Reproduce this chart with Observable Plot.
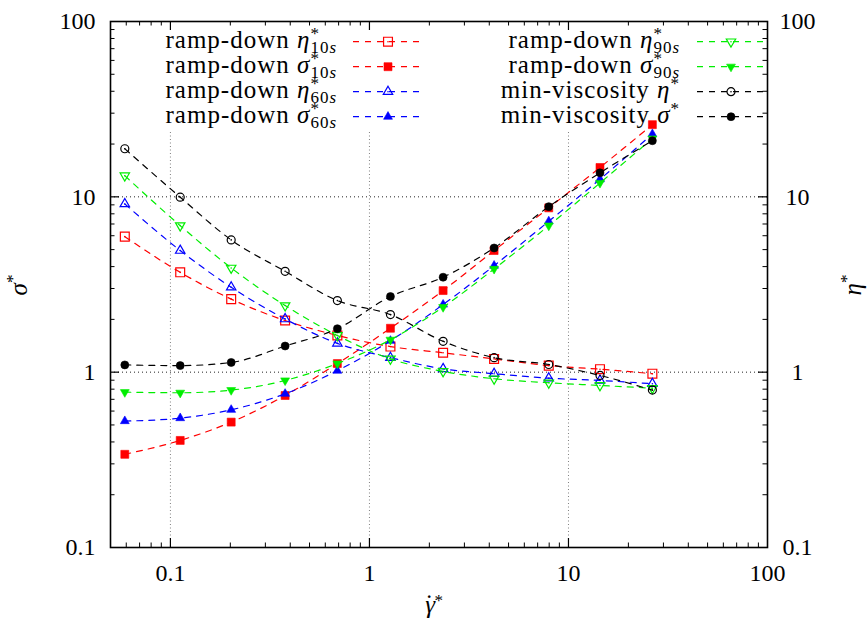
<!DOCTYPE html>
<html><head><meta charset="utf-8">
<script src="https://cdn.jsdelivr.net/npm/d3@7"></script>
<script src="https://cdn.jsdelivr.net/npm/@observablehq/plot@0.6"></script>
<style>
body{margin:0;background:#fff}
svg{display:block}
svg text, svg tspan{font-family:'Liberation Serif','Times New Roman',serif !important}
</style>
</head><body><div id="chart"></div>
<script>
// ---- data ----
const shearRate = [0.059, 0.112, 0.202, 0.377, 0.69, 1.275, 2.345, 4.23, 7.96, 14.4, 26.4];
const etaRamp10   = [5.93, 3.71, 2.61, 1.97, 1.62, 1.40, 1.29, 1.19, 1.09, 1.04, 0.98];
const sigmaRamp10 = [0.34, 0.408, 0.519, 0.736, 1.12, 1.78, 2.92, 4.94, 8.65, 14.7, 25.8];
const etaRamp60   = [9.11, 4.94, 3.05, 2.01, 1.46, 1.21, 1.045, 0.98, 0.924, 0.897, 0.859];
const sigmaRamp60 = [0.526, 0.547, 0.61, 0.753, 1.02, 1.51, 2.43, 4.05, 7.25, 12.6, 22.8];
const etaRamp90   = [13.2, 6.85, 3.93, 2.40, 1.62, 1.19, 1.01, 0.917, 0.87, 0.84, 0.81];
const sigmaRamp90 = [0.769, 0.763, 0.79, 0.897, 1.12, 1.53, 2.35, 3.88, 6.85, 12.0, 21.5];
const etaMinVisc   = [18.8, 9.95, 5.68, 3.76, 2.56, 2.13, 1.50, 1.21, 1.106, 0.958, 0.79];
const sigmaMinVisc = [1.10, 1.09, 1.136, 1.41, 1.77, 2.70, 3.48, 5.11, 8.79, 13.7, 20.9];

const xTickLabels = [0.1, 1, 10, 100];
const yTickLabels = [0.1, 1, 10, 100];
const xGrid = [0.1, 1, 10];
const yGrid = [1, 10];
const decades = [0.01, 0.1, 1, 10];
const minorMult = [2, 3, 4, 5, 6, 7, 8, 9];

const series = [
  {values: etaRamp10,   color: "#ff0000", symbol: "square",   r: 5.0, rotate: 0,   open: true,  pre: "ramp-down ",     sym: "η", sub: "10"},
  {values: sigmaRamp10, color: "#ff0000", symbol: "square",   r: 4.5, rotate: 0,   open: false, pre: "ramp-down ",     sym: "σ", sub: "10"},
  {values: etaRamp60,   color: "#0000ff", symbol: "triangle", r: 3.5, rotate: 0,   open: true,  pre: "ramp-down ",     sym: "η", sub: "60"},
  {values: sigmaRamp60, color: "#0000ff", symbol: "triangle", r: 3.3, rotate: 0,   open: false, pre: "ramp-down ",     sym: "σ", sub: "60"},
  {values: etaRamp90,   color: "#00ee00", symbol: "triangle", r: 3.5, rotate: 180, open: true,  pre: "ramp-down ",     sym: "η", sub: "90"},
  {values: sigmaRamp90, color: "#00ee00", symbol: "triangle", r: 3.3, rotate: 180, open: false, pre: "ramp-down ",     sym: "σ", sub: "90"},
  {values: etaMinVisc,  color: "#000000", symbol: "circle",   r: 4.0, rotate: 0,   open: true,  pre: "min-viscosity ", sym: "η", sub: null},
  {values: sigmaMinVisc,color: "#000000", symbol: "circle",   r: 4.0, rotate: 0,   open: false, pre: "min-viscosity ", sym: "σ", sub: null}
];

// ---- layout ----
const W = 867, H = 626;
const mL = 110, mR = 100, mT = 21, mB = 79;
const innerW = W - mL - mR, innerH = H - mT - mB;
const majorLen = 9, minorLen = 4.5;
const DASH = "6,6";
const FONT = "'Liberation Serif', 'Times New Roman', serif";

const xMinor = decades.flatMap(d => minorMult.map(m => +(d * m).toPrecision(3))).filter(v => v > 0.05 && v < 100);
const yMinor = decades.flatMap(d => minorMult.map(m => +(d * m).toPrecision(3))).filter(v => v > 0.1 && v < 100);

const marks = [
  Plot.ruleX(xGrid, {stroke: "#808080", strokeWidth: 1, strokeDasharray: "1,2.5", insetTop: 111}),
  Plot.ruleY(yGrid, {stroke: "#222", strokeWidth: 1, strokeDasharray: "1,3"}),
];

for (const s of series) {
  const d = shearRate.map((x, i) => ({x, y: s.values[i]}));
  marks.push(Plot.line(d, {x: "x", y: "y", stroke: s.color, strokeWidth: 1.2, strokeDasharray: DASH, curve: "monotone-x"}));
  marks.push(Plot.dot(d, {x: "x", y: "y", symbol: s.symbol, r: s.r, rotate: s.rotate,
    fill: s.open ? "none" : s.color, stroke: s.color, strokeWidth: s.open ? 1.2 : 0.6}));
  if (s.open) marks.push(Plot.dot(d, {x: "x", y: "y", r: 0.8, fill: s.color, stroke: "none"}));
}

marks.push(
  Plot.ruleX(xGrid, {stroke: "black", strokeWidth: 1.2, insetTop: innerH - majorLen}),
  Plot.ruleX(xGrid, {stroke: "black", strokeWidth: 1.2, insetBottom: innerH - majorLen}),
  Plot.ruleX(xMinor, {stroke: "black", strokeWidth: 1, insetTop: innerH - minorLen}),
  Plot.ruleX(xMinor, {stroke: "black", strokeWidth: 1, insetBottom: innerH - minorLen}),
  Plot.ruleY(yGrid, {stroke: "black", strokeWidth: 1.2, insetRight: innerW - majorLen}),
  Plot.ruleY(yGrid, {stroke: "black", strokeWidth: 1.2, insetLeft: innerW - majorLen}),
  Plot.ruleY(yMinor, {stroke: "black", strokeWidth: 1, insetRight: innerW - minorLen}),
  Plot.ruleY(yMinor, {stroke: "black", strokeWidth: 1, insetLeft: innerW - minorLen}),
  Plot.frame({stroke: "black", strokeWidth: 1.6}),
  Plot.axisX({ticks: xTickLabels, tickFormat: d => String(d), tickSize: 0, tickPadding: 16, label: null, fontSize: 24}),
  Plot.axisY({ticks: yTickLabels, tickFormat: d => String(d), anchor: "left", tickSize: 0, tickPadding: 15, label: null, fontSize: 24}),
  Plot.axisY({ticks: yTickLabels, tickFormat: d => String(d), anchor: "right", tickSize: 0, tickPadding: 30, textAnchor: "middle", label: null, fontSize: 24})
);

const chart = Plot.plot({
  width: W, height: H,
  marginLeft: mL, marginRight: mR, marginTop: mT, marginBottom: mB,
  x: {type: "log", domain: [0.05, 100]},
  y: {type: "log", domain: [0.1, 100]},
  style: {fontFamily: FONT, fontSize: "24px", background: "white", color: "black"},
  marks
});
document.getElementById("chart").appendChild(chart);

// ---- key and axis titles ----
const svg = d3.select(chart);
const key = svg.append("g").attr("font-family", "Liberation Serif").attr("font-size", 25)
  .attr("letter-spacing", 1).attr("fill", "black");
const cols = [{textEnd: 337, x1: 353, x2: 423, xm: 388}, {textEnd: 680, x1: 697, x2: 765, xm: 731}];
series.forEach((s, i) => {
  const c = cols[Math.floor(i / 4)];
  const y = 41.7 + 25 * (i % 4);
  key.append("line").attr("x1", c.x1).attr("x2", c.x2).attr("y1", y).attr("y2", y)
    .attr("stroke", s.color).attr("stroke-width", 1.2).attr("stroke-dasharray", DASH);
  const symType = {square: d3.symbolSquare, triangle: d3.symbolTriangle, circle: d3.symbolCircle}[s.symbol];
  key.append("path").attr("d", d3.symbol(symType, Math.PI * s.r * s.r)())
    .attr("transform", `translate(${c.xm},${y}) rotate(${s.rotate})`)
    .attr("fill", s.open ? "none" : s.color).attr("stroke", s.color).attr("stroke-width", s.open ? 1.2 : 0.6);
  if (s.open) key.append("circle").attr("cx", c.xm).attr("cy", y).attr("r", 0.8).attr("fill", s.color);
  const t = key.append("text").attr("x", c.textEnd).attr("y", y + 6.5).attr("text-anchor", "end");
  t.append("tspan").text(s.pre);
  t.append("tspan").attr("font-style", "italic").text(s.sym);
  t.append("tspan").attr("font-size", 17).attr("dy", -9).text("*");
  if (s.sub) {
    t.append("tspan").attr("font-size", 17).attr("dx", -9.5).attr("dy", 14).text(s.sub);
    t.append("tspan").attr("font-size", 17).attr("font-style", "italic").text("s");
  }
});

const titles = svg.append("g").attr("font-family", "Liberation Serif").attr("font-size", 25).attr("fill", "black");
const xt = titles.append("text").attr("x", 434).attr("y", 613).attr("text-anchor", "middle");
xt.append("tspan").attr("font-style", "italic").text("γ");
xt.append("tspan").attr("dx", -10).attr("dy", -1).text("\u02D9");
xt.append("tspan").attr("font-size", 17).attr("dx", 1).attr("dy", -6).text("*");
const yl = titles.append("text").attr("transform", "translate(27,285) rotate(-90)").attr("text-anchor", "middle");
yl.append("tspan").attr("font-style", "italic").text("σ");
yl.append("tspan").attr("font-size", 17).attr("dy", -9).text("*");
const yr = titles.append("text").attr("transform", "translate(861,285) rotate(-90)").attr("text-anchor", "middle");
yr.append("tspan").attr("font-style", "italic").text("η");
yr.append("tspan").attr("font-size", 17).attr("dy", -9).text("*");
</script>
</body></html>
